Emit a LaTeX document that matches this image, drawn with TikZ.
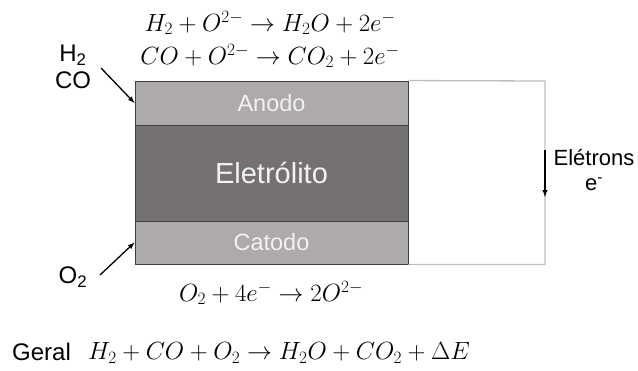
\documentclass[tikz,border=0pt]{standalone}
\usepackage{amsmath}
\usepackage{fontspec}
\setmainfont{Liberation Sans}
\usepackage{tikz}
\usepackage{xcolor}
\definecolor{camada}{RGB}{173,170,169}
\definecolor{eletro}{RGB}{117,113,112}
\definecolor{fio}{RGB}{190,190,190}
\begin{document}
\begin{tikzpicture}[
    x=1pt, y=-1pt,
    layer/.style={rectangle, draw=black!75, line width=0.9pt, minimum width=273pt, inner sep=0pt, text=white!95!black},
    wire/.style={draw=fio, line width=1.3pt},
    gas/.style={draw, line width=1.3pt, -latex},
    eq/.style={inner sep=0pt, font=\fontsize{26.5}{30}\selectfont},
    lbl/.style={inner sep=0pt, font=\fontsize{24}{27}\selectfont, align=center}
]
  \useasboundingbox (0,0) rectangle (638,370);
  % Layers
  \node[layer, fill=camada, minimum height=44pt, font=\fontsize{23.5}{26}\selectfont] (anodo) at (271.5,103) {Anodo};
  \node[layer, fill=eletro, minimum height=96pt, font=\fontsize{29}{32}\selectfont] (eletrolito) at (271.5,173) {Eletrólito};
  \node[layer, fill=camada, minimum height=43pt, font=\fontsize{23.5}{26}\selectfont] (catodo) at (271.5,242.5) {Catodo};

  % External circuit
  \coordinate (c1) at (545,81);
  \draw[wire] (anodo.north east) -- (c1) |- (catodo.south east);
  \coordinate (e1) at (545,150);
  \coordinate (e2) at (545,197);
  \draw[line width=1.4pt, -latex] (e1) -- (e2);
  \node[lbl, font=\fontsize{22}{25}\selectfont] (eletrons) at (594,170) {Elétrons\\e\textsuperscript{-}};

  % Gases
  \node[lbl] (h2co) at (73,67) {H\textsubscript{2}\\CO};
  \coordinate (g1) at (101,68);
  \draw[gas] (g1) -- (anodo.west);
  \node[lbl] (o2) at (73,277) {O\textsubscript{2}};
  \coordinate (g2) at (100,275);
  \draw[gas] (g2) -- (catodo.west);

  % Reactions
  \node[eq] (ranodo1) at (270,23) {$H_2+O^{2-}\rightarrow H_2O+2e^-$};
  \node[eq] (ranodo2) at (270,56) {$CO+O^{2-}\rightarrow CO_2+2e^-$};
  \node[eq] (rcatodo) at (271,293) {$O_2+4e^-\rightarrow 2O^{2-}$};
  \node[lbl, anchor=west] (geral) at (12,352) {Geral};
  \node[eq, anchor=west, font=\fontsize{25.5}{29}\selectfont] (rgeral) at (88,353) {$H_2+CO+O_2\rightarrow H_2O+CO_2+\Delta E$};
\end{tikzpicture}
\end{document}
